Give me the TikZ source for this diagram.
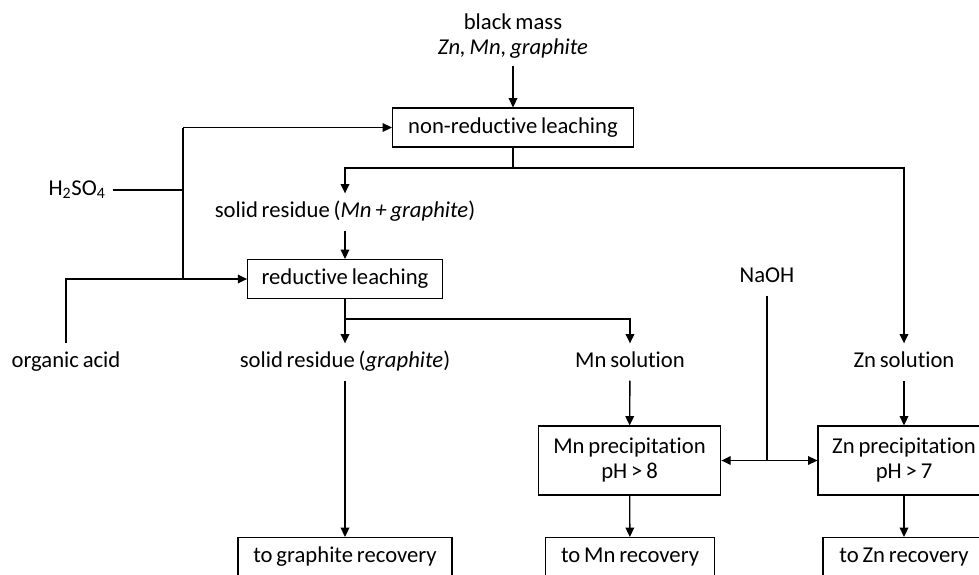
\documentclass[tikz,border=0pt]{standalone}
\usepackage{fontspec}
\setmainfont{Carlito}[Ligatures=NoCommon, WordSpace=0.75]
\usetikzlibrary{arrows.meta, positioning}

\begin{document}
\begin{tikzpicture}[
    x=0.75pt, y=-0.75pt,
    font=\fontsize{17}{18.75}\selectfont,
    stage/.style={draw, line width=0.85pt, minimum height=29.25pt, inner sep=0pt, align=center},
    source/.style={inner sep=0pt, outer sep=6pt, align=center},
    stream/.style={source, text height=12pt, text depth=4pt},
    flow/.style={line width=1pt, -{Triangle[length=7pt, width=6.5pt]}},
    pipe/.style={line width=1pt}
]
    \useasboundingbox (0,0) rectangle (979,575);
    \clip (0,0) rectangle (979,575);

    % leaching stages
    \node[source] (feed) at (513,36) {black mass\\\textit{Zn, Mn, graphite}};
    \node[stage, minimum width=180.75pt] (nonred) at (513,127.5) {non-reductive leaching};
    \node[stream] (res1) at (345,212) {solid residue (\textit{Mn + graphite})};
    \node[stage, minimum width=146pt] (redleach) at (345,279) {reductive leaching};

    % reagents
    \node[stream] (h2so4) at (77,190) {H\textsubscript{2}SO\textsubscript{4}};
    \node[stream] (orgacid) at (66,362) {organic acid};
    \node[stream] (naoh) at (767,277) {NaOH};

    % products
    \node[stream] (res2) at (345,362) {solid residue (\textit{graphite})};
    \node[stream] (mnsol) at (630,362) {Mn solution};
    \node[stream] (znsol) at (904,362) {Zn solution};
    \node[stage, minimum width=137pt, minimum height=51.75pt] (mnprec) at (629.5,460.5) {Mn precipitation\\pH > 8};
    \node[stage, minimum width=129pt, minimum height=51.75pt] (znprec) at (904,460.5) {Zn precipitation\\pH > 7};
    \node[stage, minimum width=160.5pt] (graphrec) at (345,557) {to graphite recovery};
    \node[stage, minimum width=127pt] (mnrec) at (630,557) {to Mn recovery};
    \node[stage, minimum width=121.5pt] (znrec) at (904,557) {to Zn recovery};

    % junctions
    \coordinate (split1) at (513,168);
    \coordinate (split2) at (345,319);
    \coordinate (acidtop) at (183,127.5);
    \coordinate (acidmid) at (183,190);
    \coordinate (acidbot) at (183,279);
    \coordinate (naohj) at (767,460.5);

    \draw[flow] (feed) -- (nonred);
    \draw[pipe] (nonred) -- (split1);
    \draw[flow] (split1) -| (res1);
    \draw[flow] (split1) -| (znsol);
    \draw[flow] (res1) -- (redleach);
    \draw[pipe] (redleach) -- (split2);
    \draw[flow] (split2) -- (res2);
    \draw[flow] (split2) -| (mnsol);

    \draw[pipe] (h2so4) -- (acidmid);
    \draw[pipe] (acidtop) -- (acidbot);
    \draw[flow] (acidtop) -- (nonred);
    \draw[flow] (orgacid) |- (redleach);

    \draw[flow] (res2) -- (graphrec);
    \draw[flow] (mnsol) -- (mnprec);
    \draw[flow] (mnprec) -- (mnrec);
    \draw[flow] (znsol) -- (znprec);
    \draw[flow] (znprec) -- (znrec);
    \draw[pipe] (naoh) -- (naohj);
    \draw[flow] (naohj) -- (mnprec);
    \draw[flow] (naohj) -- (znprec);
\end{tikzpicture}
\end{document}
